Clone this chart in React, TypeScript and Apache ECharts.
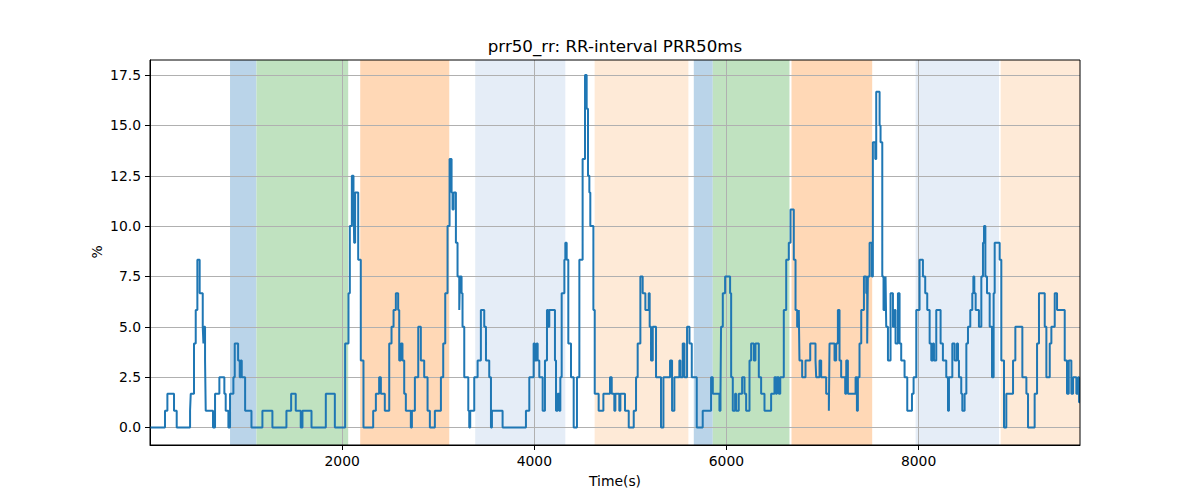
import React, { useEffect, useRef } from "react";
import * as echarts from "echarts";

// Time (s) at which each value starts (step-post style signal)
const timeSec = [
  0, 156, 181, 250, 278, 417, 424, 458, 476, 493, 517, 549, 556, 563, 573, 580, 656, 677, 722, 774,
  788, 816, 833, 868, 882, 917, 934, 944, 955, 990, 1056, 1170, 1274, 1420, 1469, 1517, 1569, 1587, 1681, 1830,
  1924, 2031, 2066, 2080, 2101, 2118, 2125, 2135, 2167, 2194, 2222, 2323, 2351, 2385, 2403, 2444, 2490, 2514, 2535, 2559,
  2583, 2594, 2611, 2628, 2646, 2663, 2715, 2726, 2757, 2792, 2819, 2854, 2889, 2913, 2965, 3028, 3052, 3073, 3097, 3118,
  3139, 3149, 3160, 3184, 3201, 3219, 3226, 3243, 3253, 3271, 3313, 3323, 3333, 3375, 3410, 3444, 3479, 3497, 3531, 3549,
  3559, 3670, 3913, 3948, 3993, 4007, 4024, 4035, 4052, 4087, 4111, 4132, 4146, 4156, 4215, 4226, 4243, 4260, 4271, 4285,
  4313, 4323, 4337, 4354, 4382, 4410, 4444, 4469, 4503, 4528, 4545, 4559, 4573, 4583, 4615, 4629, 4670, 4719, 4788, 4806,
  4833, 4844, 4885, 4896, 4944, 4983, 5035, 5059, 5076, 5104, 5128, 5156, 5191, 5201, 5215, 5233, 5267, 5319, 5344, 5413,
  5434, 5458, 5510, 5521, 5545, 5563, 5590, 5615, 5639, 5691, 5753, 5840, 5858, 5927, 5938, 5944, 5962, 5986, 6038, 6049,
  6066, 6090, 6101, 6128, 6163, 6188, 6205, 6240, 6257, 6285, 6302, 6337, 6361, 6396, 6465, 6500, 6515, 6525, 6545, 6560,
  6597, 6622, 6649, 6667, 6701, 6719, 6736, 6753, 6760, 6788, 6823, 6872, 6927, 6934, 6969, 6986, 7038, 7066, 7073, 7125,
  7142, 7160, 7177, 7194, 7236, 7247, 7264, 7344, 7358, 7368, 7385, 7403, 7431, 7455, 7465, 7472, 7490, 7514, 7524, 7549,
  7559, 7594, 7604, 7622, 7635, 7656, 7663, 7681, 7708, 7733, 7750, 7760, 7785, 7802, 7819, 7854, 7882, 7931, 7948, 7976,
  8010, 8045, 8069, 8090, 8115, 8132, 8149, 8160, 8184, 8229, 8253, 8288, 8306, 8316, 8351, 8375, 8399, 8410, 8420, 8444,
  8455, 8479, 8497, 8514, 8538, 8559, 8570, 8580, 8594, 8628, 8653, 8670, 8681, 8695, 8712, 8740, 8764, 8781, 8792, 8844,
  8861, 8889, 8913, 8983, 9007, 9080, 9122, 9139, 9208, 9233, 9253, 9313, 9330, 9365, 9382, 9417, 9441, 9521, 9545, 9563,
  9590, 9608, 9642, 9660, 9670, 9680,
];

// PRR50 (%) values
const prr50Pct = [
  0, 0.83, 1.67, 0.83, 0, 0.83, 1.67, 4.17, 5.83, 8.33, 6.67, 5, 4.17, 5, 3.33, 0.83, 0, 1.67, 2.5, 1.67,
  0.83, 0, 1.67, 2.5, 4.17, 3.33, 2.5, 3.33, 2.5, 0.83, 0, 0.83, 0, 0.83, 1.67, 0.83, 0, 0.83, 0, 1.67,
  0, 4.17, 6.67, 10, 12.5, 11.67, 9.17, 11.67, 8.33, 3.33, 0, 0.83, 1.67, 2.5, 1.67, 0.83, 4.17, 5, 5.83, 6.67,
  5.83, 3.33, 4.17, 3.33, 1.67, 0.83, 0, 0.83, 2.5, 5, 3.33, 2.5, 0.83, 0, 0.83, 2.5, 4.17, 6.67, 10, 13.33,
  11.67, 10.83, 11.67, 9.17, 7.5, 5.83, 7.5, 6.67, 5, 2.5, 0.83, 0, 0.83, 2.5, 3.33, 5.83, 5, 3.33, 2.5, 0,
  0.83, 0, 0.83, 2.5, 4.17, 3.33, 4.17, 3.33, 2.5, 0.83, 3.33, 5.83, 5, 5.83, 3.33, 0.83, 1.67, 0.83, 2.5, 6.67,
  8.33, 9.17, 8.33, 4.17, 2.5, 0, 2.5, 8.33, 13.33, 17.5, 15.83, 12.5, 11.67, 10, 5.83, 1.67, 0.83, 1.67, 2.5, 1.67,
  0.83, 1.67, 0.83, 1.67, 0.83, 0, 0.83, 2.5, 4.17, 7.5, 6.67, 5.83, 6.67, 5, 3.33, 5, 2.5, 0, 2.5, 3.33,
  0.83, 2.5, 3.33, 2.5, 4.17, 2.5, 5, 4.17, 2.5, 0, 0.83, 2.5, 1.67, 0.83, 1.67, 5, 6.67, 7.5, 6.67, 2.5,
  0.83, 1.67, 0.83, 1.67, 2.5, 1.67, 0.83, 3.33, 4.17, 3.33, 4.17, 2.5, 1.67, 0.83, 1.67, 2.5, 1.67, 2.5, 1.67, 2.5,
  5.83, 8.33, 9.17, 10.83, 8.33, 5.83, 5, 5.83, 3.33, 2.5, 3.33, 4.17, 3.33, 2.5, 3.33, 2.5, 1.67, 0.83, 4.17, 3.33,
  4.17, 5.83, 3.33, 2.5, 1.67, 3.33, 1.67, 2.5, 0.83, 2.5, 4.17, 5.83, 7.5, 6.67, 4.17, 7.5, 9.17, 7.5, 14.17, 13.33,
  16.67, 15, 14.17, 7.5, 5.83, 7.5, 5, 3.33, 6.67, 5, 5.83, 4.17, 6.67, 4.17, 3.33, 2.5, 0.83, 1.67, 2.5, 5.83,
  8.33, 7.5, 6.67, 5.83, 4.17, 3.33, 4.17, 3.33, 5.83, 4.17, 3.33, 2.5, 0.83, 2.5, 4.17, 3.33, 4.17, 3.33, 2.5, 1.67,
  0.83, 1.67, 4.17, 5, 5.83, 6.67, 7.5, 6.67, 5.83, 5, 7.5, 9.17, 10, 7.5, 6.67, 5, 2.5, 6.67, 9.17, 8.33,
  3.33, 0, 1.67, 3.33, 5, 2.5, 1.67, 0, 1.67, 4.17, 6.67, 5, 2.5, 4.17, 5, 6.67, 5.83, 3.33, 1.67, 3.33,
  1.67, 2.5, 1.67, 2.5, 1.25, 1.25,
];

// Shaded activity bands (s)
const bandStarts = [833, 1108, 2188, 3385, 4628, 5660, 5858, 6677, 7969, 8854];
const bandEnds = [1108, 2063, 3115, 4323, 5604, 5858, 6656, 7517, 8837, 9680];
const bandColors = [
  "#bad4e9", "#c0e2c0", "#ffd8b6", "#e5edf7", "#feead7",
  "#bad4e9", "#c0e2c0", "#ffd8b6", "#e5edf7", "#feead7",
];

const xTicks = [2000, 4000, 6000, 8000];
const yTicks = [0, 2.5, 5, 7.5, 10, 12.5, 15, 17.5];

const FONT = "DejaVu Sans";

export default function App() {
  const ref = useRef<HTMLDivElement>(null);

  useEffect(() => {
    if (!ref.current) return;
    const chart = echarts.init(ref.current, null, { renderer: "svg" });

    const lineData = timeSec.map((t, i) => [t, prr50Pct[i]]);
    const bandData = bandStarts.map((s, i) => [s, bandEnds[i], i]);

    chart.setOption({
      animation: false,
      backgroundColor: "#ffffff",
      grid: {
        left: 150,
        right: 120,
        top: 60,
        bottom: 55,
        show: true,
        borderColor: "#000000",
        borderWidth: 1,
        backgroundColor: "transparent",
        z: 3,
      },
      xAxis: {
        type: "value",
        min: 0,
        max: 9680,
        z: 1,
        axisLine: { show: true, onZero: false, lineStyle: { color: "#000", width: 1 } },
        axisTick: { show: true, length: 5, lineStyle: { color: "#000", width: 1 }, customValues: xTicks },
        axisLabel: {
          customValues: xTicks,
          color: "#000",
          fontFamily: FONT,
          fontSize: 13.9,
          margin: 9,
          formatter: (v: number) => String(v),
        },
        splitLine: { show: true, lineStyle: { color: "#b0b0b0", width: 1 } },
      },
      yAxis: {
        type: "value",
        min: -0.87,
        max: 18.25,
        z: 1,
        axisLine: { show: true, onZero: false, lineStyle: { color: "#000", width: 1 } },
        axisTick: { show: true, length: 5, lineStyle: { color: "#000", width: 1 }, customValues: yTicks },
        axisLabel: {
          customValues: yTicks,
          color: "#000",
          fontFamily: FONT,
          fontSize: 13.9,
          margin: 9,
          formatter: (v: number) => v.toFixed(1),
        },
        splitLine: { show: true, lineStyle: { color: "#b0b0b0", width: 1 } },
      },
      graphic: [
        {
          type: "text",
          x: 615,
          y: 46,
          style: {
            text: "prr50_rr: RR-interval PRR50ms",
            fontFamily: FONT,
            fontSize: 16.7,
            fill: "#000",
            textAlign: "center",
            textVerticalAlign: "middle",
          },
        },
        {
          type: "text",
          x: 615,
          y: 481,
          style: {
            text: "Time(s)",
            fontFamily: FONT,
            fontSize: 13.9,
            fill: "#000",
            textAlign: "center",
            textVerticalAlign: "middle",
          },
        },
        {
          type: "text",
          x: 97,
          y: 252,
          rotation: Math.PI / 2,
          style: {
            text: "%",
            fontFamily: FONT,
            fontSize: 13.9,
            fill: "#000",
            textAlign: "center",
            textVerticalAlign: "middle",
          },
        },
      ],
      series: [
        {
          type: "custom",
          z: 0,
          silent: true,
          encode: { x: [0, 1] },
          data: bandData,
          renderItem: (params: any, api: any) => {
            const x0 = api.coord([api.value(0), 0])[0];
            const x1 = api.coord([api.value(1), 0])[0];
            const cs = params.coordSys;
            return {
              type: "rect",
              shape: { x: x0, y: cs.y, width: x1 - x0, height: cs.height },
              style: { fill: bandColors[api.value(2)] },
            };
          },
        },
        {
          type: "line",
          z: 2,
          step: "end",
          showSymbol: false,
          silent: true,
          data: lineData,
          lineStyle: { color: "#1f77b4", width: 2 },
        },
      ],
    });

    return () => chart.dispose();
  }, []);

  return (
    <div
      ref={ref}
      style={{ position: "fixed", left: 0, top: 0, width: 1200, height: 500 }}
    />
  );
}
